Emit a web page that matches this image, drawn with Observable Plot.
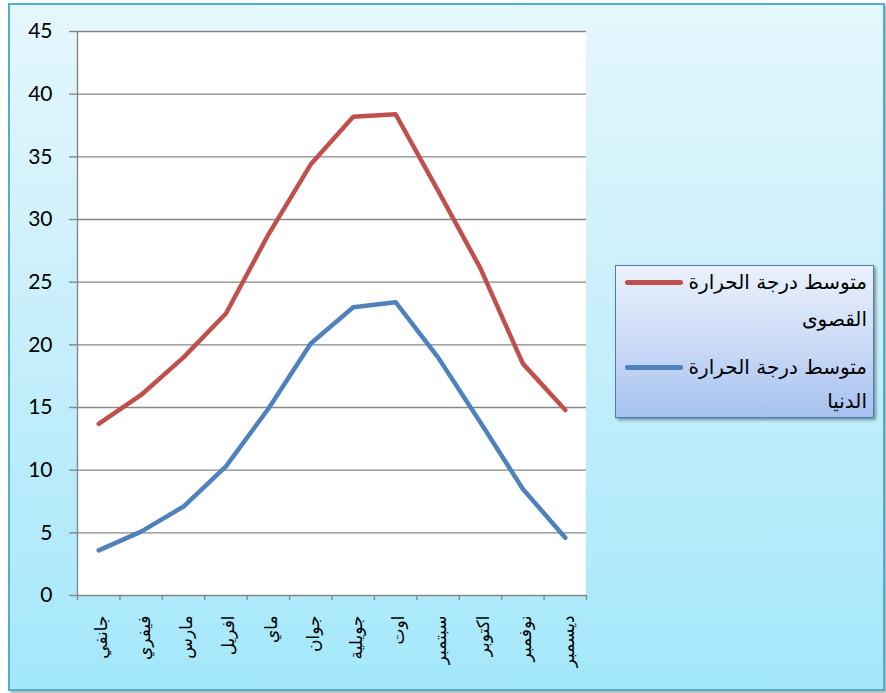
<!DOCTYPE html>
<html>
<head>
<meta charset="utf-8">
<script src="https://cdn.jsdelivr.net/npm/d3@7"></script>
<script src="https://cdn.jsdelivr.net/npm/@observablehq/plot@0.6"></script>
<style>
  html, body { margin: 0; padding: 0; background: #ffffff; }
  #wrap { position: relative; width: 886px; height: 693px; overflow: hidden; }
  #frame {
    position: absolute; left: 8px; top: 3px; width: 873px; height: 684px;
    border: 2px solid #4eaecb;
    background: linear-gradient(to bottom, #e5f7fd 0%, #c9effb 45%, #a4e8fb 100%);
    box-shadow: 2px 2px 3px rgba(0,0,0,0.35);
  }
  #chart { position: absolute; left: 0; top: 0; }
  #legend {
    position: absolute; left: 615px; top: 265px; width: 257px; height: 151px;
    border: 1.5px solid #4a7ebb;
    background: linear-gradient(to bottom, #ebf1fc 0%, #c9d9f6 55%, #a6c1ef 100%);
    box-shadow: 2px 2px 3px rgba(0,0,0,0.4);
    font-family: "DejaVu Sans", "Noto Sans", sans-serif; font-size: 20px; color: #000;
  }
  .lg-line { position: absolute; height: 5px; border-radius: 3px; }
  .lg-text { position: absolute; right: 6px; direction: rtl; text-align: right; white-space: nowrap; line-height: 22px; }
</style>
</head>
<body>
<div id="wrap">
  <div id="frame"></div>
  <div id="chart"></div>
  <div id="legend"></div>
</div>
<script>
const months = ["جانفي","فيفري","مارس","افريل","ماي","جوان","جويلية","اوت","سبتمبر","اكتوبر","نوفمبر","ديسمبر"];
const maxTemp = [13.7, 16.0, 19.0, 22.5, 28.8, 34.4, 38.2, 38.4, 32.3, 26.1, 18.5, 14.8];
const minTemp = [3.6, 5.1, 7.1, 10.3, 14.9, 20.1, 23.0, 23.4, 19.0, 13.8, 8.5, 4.6];
const yTicks = [0, 5, 10, 15, 20, 25, 30, 35, 40, 45];
const seriesNames = ["متوسط درجة الحرارة القصوى", "متوسط درجة الحرارة الدنيا"];
const seriesColors = ["#c0504d", "#4f81bd"];

const rows = [];
months.forEach((m, i) => {
  rows.push({series: seriesNames[0], idx: i + 0.5, value: maxTemp[i]});
});
months.forEach((m, i) => {
  rows.push({series: seriesNames[1], idx: i + 0.5, value: minTemp[i]});
});
const bounds = d3.range(months.length + 1);
const labelRows = months.map((m, i) => ({m, idx: i + 0.5}));

const gridColor = "#878787";

const chart = Plot.plot({
  width: 886,
  height: 693,
  marginLeft: 77,
  marginRight: 300,
  marginTop: 31,
  marginBottom: 98,
  x: {domain: [0, months.length], axis: null, label: null},
  y: {domain: [0, 45], axis: null, label: null},
  color: {domain: seriesNames, range: seriesColors},
  style: {background: "transparent", overflow: "visible"},
  marks: [
    Plot.rect([0], {x1: 0, x2: months.length, y1: 0, y2: 45, fill: "white"}),
    Plot.ruleY(yTicks.filter(d => d > 0), {stroke: gridColor, strokeWidth: 1.4}),
    Plot.axisY(yTicks, {tickSize: 8, stroke: gridColor, strokeWidth: 1.4, tickFormat: () => "", label: null}),
    Plot.text(yTicks, {x: 0, y: d => d, dx: -25, textAnchor: "end", fontSize: 21, fontFamily: "Lato, 'Open Sans', sans-serif", fill: "#000"}),
    Plot.ruleX([0], {stroke: gridColor, strokeWidth: 1.4}),
    Plot.ruleY([0], {stroke: gridColor, strokeWidth: 1.4}),
    Plot.axisX(bounds, {tickSize: 5, stroke: gridColor, strokeWidth: 1.4, tickFormat: () => "", label: null}),
    Plot.text(labelRows, {x: "idx", y: 0, text: "m", rotate: -90, textAnchor: "end", dy: 20, dx: 3, fontSize: 17, fontFamily: "'DejaVu Sans', sans-serif", fill: "#000"}),
    Plot.line(rows, {x: "idx", y: "value", z: "series", stroke: "series", strokeWidth: 4.5, strokeLinecap: "round", strokeLinejoin: "round"})
  ]
});
document.getElementById("chart").appendChild(chart);

// Legend
const legend = document.getElementById("legend");
const entries = [
  {color: seriesColors[0], lines: ["متوسط درجة الحرارة", "القصوى"], top: 5, gap: 37},
  {color: seriesColors[1], lines: ["متوسط درجة الحرارة", "الدنيا"], top: 90, gap: 34}
];
entries.forEach(e => {
  const ln = document.createElement("div");
  ln.className = "lg-line";
  ln.style.left = "9px";
  ln.style.width = "58px";
  ln.style.top = (e.top + 9) + "px";
  ln.style.background = e.color;
  legend.appendChild(ln);
  e.lines.forEach((t, j) => {
    const tx = document.createElement("div");
    tx.className = "lg-text";
    tx.style.top = (e.top + j * e.gap) + "px";
    tx.textContent = t;
    legend.appendChild(tx);
  });
});
</script>
</body>
</html>
